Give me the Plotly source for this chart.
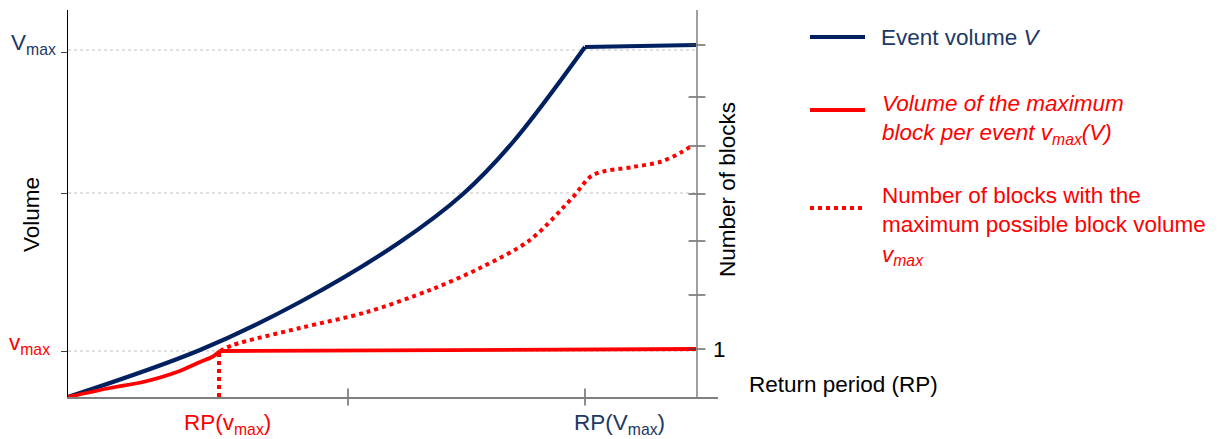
import plotly.graph_objects as go

# ---------------- data (arbitrary schematic units) ----------------
# Event volume V vs return period (rising part, then capped at V_max)
rp_event = [0, 132, 232, 332, 395, 445, 517]
vol_event = [0, 47, 95, 155, 203, 255, 350]
rp_event_cap = [517, 628]
vol_event_cap = [350, 352]

# Volume of the maximum block per event v_max(V)
rp_block = [0, 42, 75, 109, 132, 144, 152]
vol_block = [0, 9, 15, 25, 35, 40, 46]
rp_block_cap = [152, 628]
vol_block_cap = [46, 48]

# Number of blocks with the maximum possible block volume
rp_nblocks = [152, 165, 232, 299, 362, 412, 462, 505, 525, 565, 592, 612, 625]
nblocks = [46, 52, 69, 85, 107, 129, 157, 200, 222, 230, 235, 244, 252]

# vertical dotted drop at RP(v_max)
rp_drop = [151, 151]
vol_drop = [0, 46]

# axis tick positions
left_ticks = [345, 204, 46]          # V_max, middle, v_max
grid_levels = [347, 204, 46]
right_ticks = [352, 300, 251, 203, 156, 102, 48]
x_ticks = [280, 517]
right_axis_x = 629

X_RANGE = [0, 650]
Y_RANGE = [0, 387]

BLUE = "#002060"
BLUE_TXT = "#203864"
RED = "#FF0000"
FONT = "Arial, 'Liberation Sans', sans-serif"
FS = 22.5

W, H = 1218, 439
ML, MR, MT, MB = 68, 500, 10, 42
PW, PH = W - ML - MR, H - MT - MB


def px(xp):
    return (xp - ML) / PW


def py(yp):
    return (H - MB - yp) / PH


fig = go.Figure()


def line_trace(x, y, color, width, dash="solid", shape="linear", smoothing=1.0):
    fig.add_trace(go.Scatter(x=x, y=y, mode="lines",
                             line=dict(color=color, width=width, dash=dash, shape=shape,
                                       smoothing=smoothing if shape == "spline" else None),
                             cliponaxis=False, showlegend=False, hoverinfo="skip"))


# curves
line_trace(rp_event, vol_event, BLUE, 4.2, shape="spline", smoothing=1.0)
line_trace(rp_event_cap, vol_event_cap, BLUE, 4.2)
line_trace(rp_nblocks, nblocks, RED, 4, dash="dot", shape="spline", smoothing=0.9)
line_trace(rp_drop, vol_drop, RED, 4, dash="dot")
line_trace(rp_block, vol_block, RED, 3.8, shape="spline", smoothing=0.8)
line_trace(rp_block_cap, vol_block_cap, RED, 3.8)

# grid lines (dotted, stop at right axis)
for g in grid_levels:
    fig.add_shape(type="line", xref="x", yref="y", x0=0, x1=right_axis_x, y0=g, y1=g,
                  line=dict(color="#c0c0c0", width=1, dash="dot"), layer="below")

# right axis line
fig.add_shape(type="line", xref="x", yref="y", x0=right_axis_x, x1=right_axis_x,
              y0=0, y1=Y_RANGE[1], line=dict(color="#808080", width=1.5))

# right axis ticks (crossing)
fig.add_trace(go.Scatter(x=[right_axis_x] * len(right_ticks), y=right_ticks, mode="markers",
                         marker=dict(symbol="line-ew", size=12,
                                     line=dict(color="#404040", width=1.2)),
                         cliponaxis=False, showlegend=False, hoverinfo="skip"))
# x axis ticks (crossing)
fig.add_trace(go.Scatter(x=x_ticks, y=[0] * len(x_ticks), mode="markers",
                         marker=dict(symbol="line-ns", size=12,
                                     line=dict(color="#404040", width=1.2)),
                         cliponaxis=False, showlegend=False, hoverinfo="skip"))

ann = []


def add_text(text, xp, yp, color, xanchor="left", yanchor="middle", angle=0, align="left"):
    ann.append(dict(text=text, x=px(xp), y=py(yp), xref="paper", yref="paper",
                    xanchor=xanchor, yanchor=yanchor, showarrow=False, textangle=angle,
                    align=align, font=dict(family=FONT, size=FS, color=color)))


# left tick labels
add_text("V<sub>max</sub>", 58, 44, BLUE_TXT, xanchor="right")
add_text("v<sub>max</sub>", 52, 344, RED, xanchor="right")
# axis titles
add_text("Volume", 31, 215, "#000000", xanchor="center", angle=-90)
add_text("Number of blocks", 727, 190, "#000000", xanchor="center", angle=-90)
add_text("1", 711, 349, "#000000")
add_text("Return period (RP)", 747, 384, "#000000")
# x labels
add_text("RP(v<sub>max</sub>)", 182, 424, RED)
add_text("RP(V<sub>max</sub>)", 572, 424, BLUE_TXT)

# legend
legend_items = [
    (37, dict(color=BLUE, width=4), "Event volume <i>V</i>", BLUE_TXT, 37),
    (110, dict(color=RED, width=4), "<i>Volume of the maximum<br>block per event v<sub>max</sub>(V)</i>", RED, 89),
    (208, dict(color=RED, width=4, dash="dot"),
     "Number of blocks with the<br>maximum possible block volume<br><i>v<sub>max</sub></i>", RED, 181),
]
for ly, lstyle, txt, col, ty in legend_items:
    fig.add_shape(type="line", xref="paper", yref="paper", x0=px(810), x1=px(865),
                  y0=py(ly), y1=py(ly), line=lstyle)
    if ty == ly:
        add_text(txt, 879, ty, col)
    else:
        add_text(txt, 880, ty, col, yanchor="top")

fig.update_layout(
    width=W, height=H, autosize=False,
    margin=dict(l=ML, r=MR, t=MT, b=MB, pad=0),
    paper_bgcolor="white", plot_bgcolor="white",
    showlegend=False,
    font=dict(family=FONT, size=FS),
    annotations=ann,
    xaxis=dict(range=X_RANGE, showline=True, linecolor="#808080", linewidth=1.5,
               showgrid=False, zeroline=False, showticklabels=False, ticks="",
               fixedrange=True),
    yaxis=dict(range=Y_RANGE, showline=True, linecolor="#000000", linewidth=1,
               showgrid=False, zeroline=False, showticklabels=False,
               ticks="outside", tickvals=left_ticks, ticklen=6, tickcolor="#404040",
               tickwidth=1, fixedrange=True),
)

fig.write_html("out.html")
